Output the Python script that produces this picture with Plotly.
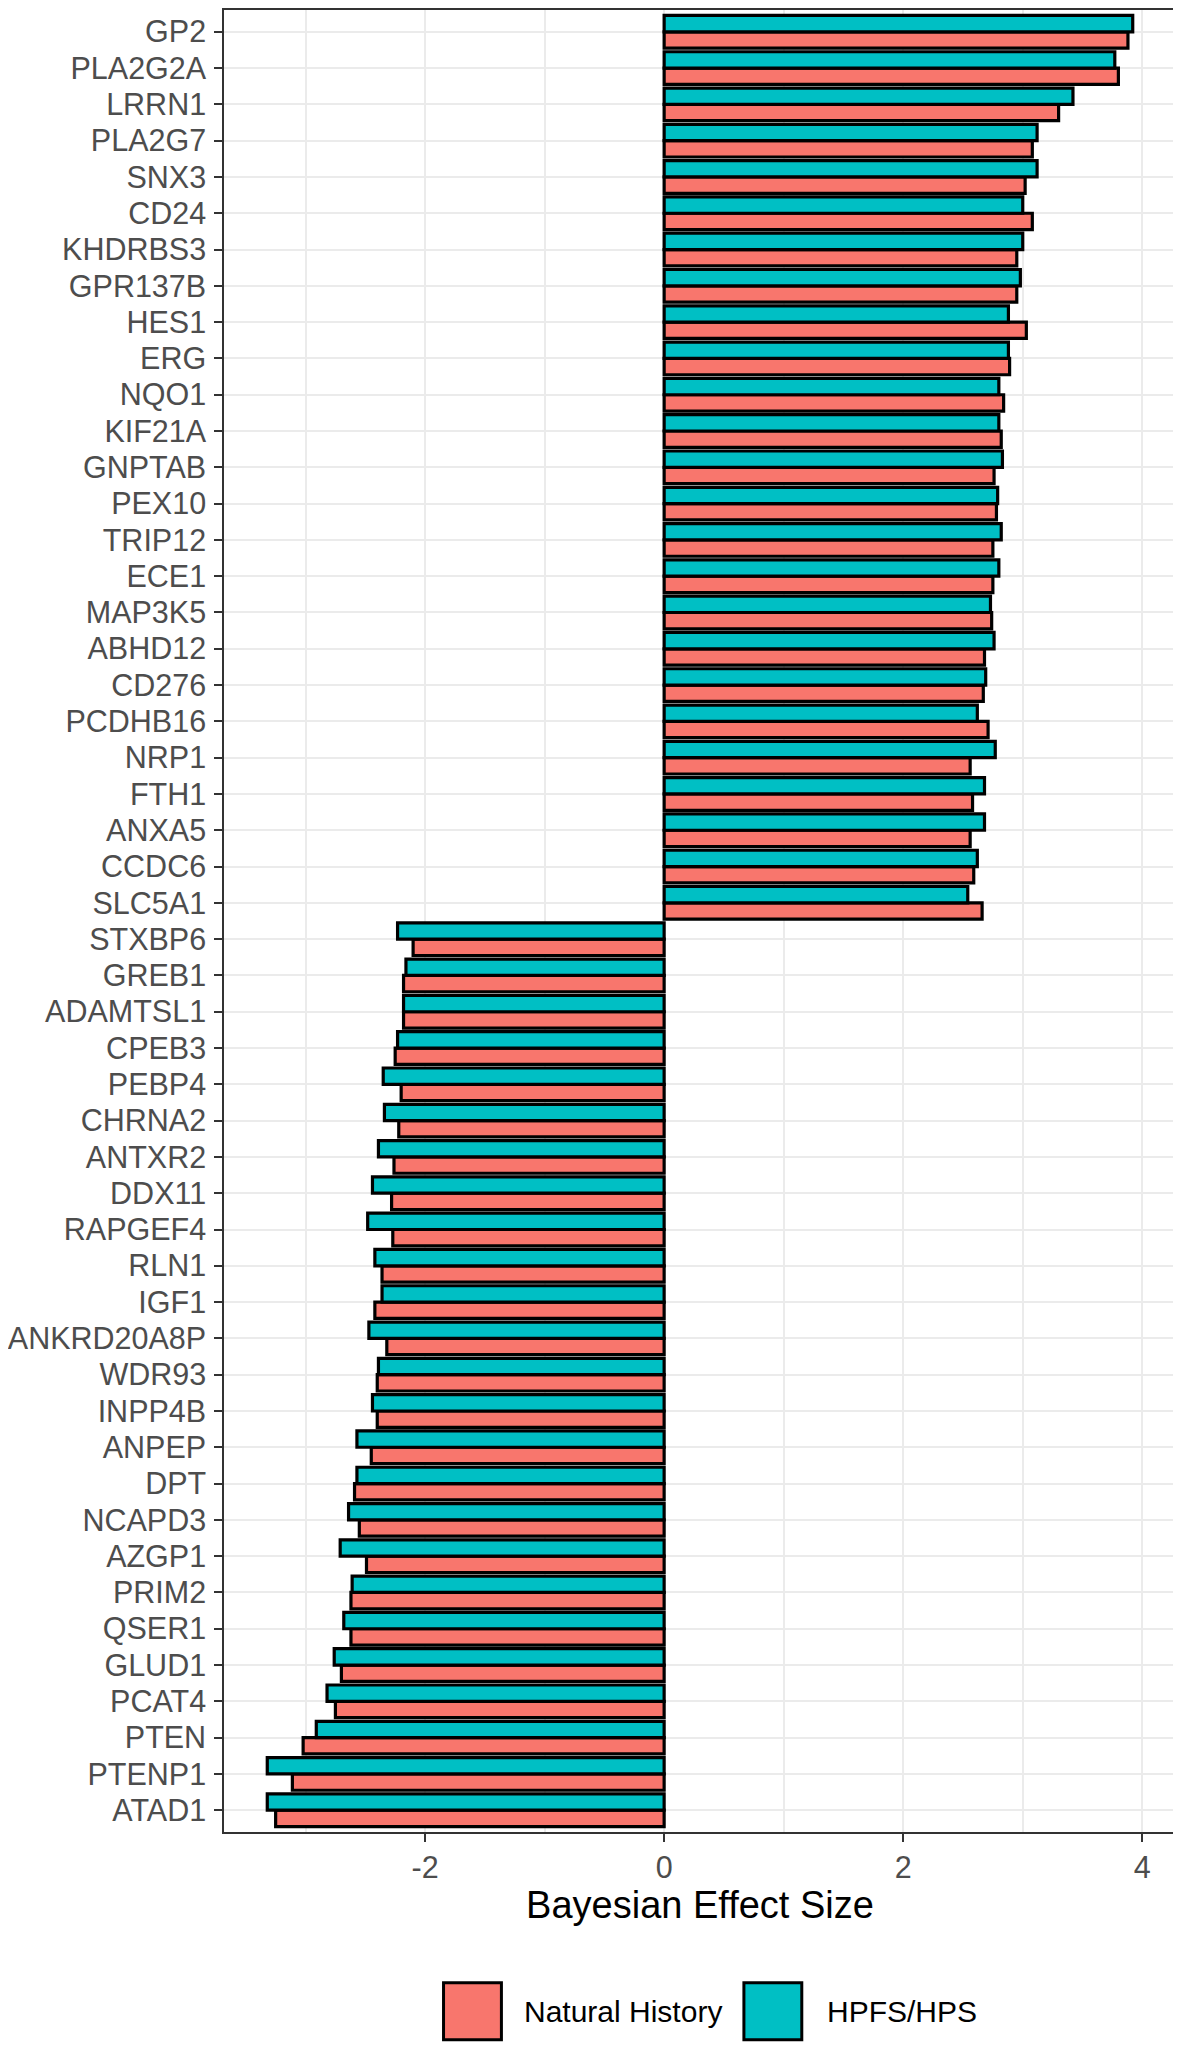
import plotly.graph_objects as go

genes = ["GP2", "PLA2G2A", "LRRN1", "PLA2G7", "SNX3", "CD24", "KHDRBS3", "GPR137B",
         "HES1", "ERG", "NQO1", "KIF21A", "GNPTAB", "PEX10", "TRIP12", "ECE1",
         "MAP3K5", "ABHD12", "CD276", "PCDHB16", "NRP1", "FTH1", "ANXA5", "CCDC6",
         "SLC5A1", "STXBP6", "GREB1", "ADAMTSL1", "CPEB3", "PEBP4", "CHRNA2",
         "ANTXR2", "DDX11", "RAPGEF4", "RLN1", "IGF1", "ANKRD20A8P", "WDR93",
         "INPP4B", "ANPEP", "DPT", "NCAPD3", "AZGP1", "PRIM2", "QSER1", "GLUD1",
         "PCAT4", "PTEN", "PTENP1", "ATAD1"]

natural_history = [3.88, 3.80, 3.30, 3.08, 3.02, 3.08, 2.95, 2.95, 3.03, 2.89,
                   2.84, 2.82, 2.76, 2.78, 2.75, 2.75, 2.74, 2.68, 2.67, 2.71,
                   2.56, 2.58, 2.56, 2.59, 2.66,
                   -2.10, -2.18, -2.18, -2.25, -2.20, -2.22, -2.26, -2.28, -2.27,
                   -2.36, -2.42, -2.32, -2.40, -2.40, -2.45, -2.59, -2.55, -2.49,
                   -2.62, -2.62, -2.70, -2.75, -3.02, -3.11, -3.25]

hpfs_hps = [3.92, 3.77, 3.42, 3.12, 3.12, 3.00, 3.00, 2.98, 2.88, 2.88,
            2.80, 2.80, 2.83, 2.79, 2.82, 2.80, 2.73, 2.76, 2.69, 2.62,
            2.77, 2.68, 2.68, 2.62, 2.54,
            -2.23, -2.16, -2.18, -2.23, -2.35, -2.34, -2.39, -2.44, -2.48,
            -2.42, -2.36, -2.47, -2.39, -2.44, -2.57, -2.57, -2.64, -2.71,
            -2.61, -2.68, -2.76, -2.82, -2.91, -3.32, -3.32]

series_names = ["Natural History", "HPFS/HPS"]
series_colors = ["#F8766D", "#00BFC4"]
x_ticks = [-2, 0, 2, 4]
x_title = "Bayesian Effect Size"

FONT = "Liberation Sans, Arial, sans-serif"
OFF = 8  # default page body margin
W, H = 1181 - OFF, 2045 - OFF
ML, MR, MT, MB = 222 - OFF, 5, 0, 213

fig = go.Figure()
for name, vals, col in zip(series_names, [natural_history, hpfs_hps], series_colors):
    fig.add_trace(go.Bar(
        y=genes, x=vals, name=name, orientation="h",
        marker=dict(color=col, line=dict(color="black", width=3.2)),
        showlegend=False,
    ))

all_vals = natural_history + hpfs_hps + [0]
lo, hi = min(all_vals), max(all_vals)
span = hi - lo
xrange = [lo - 0.05 * span, hi + 0.05 * span]

# page pixel -> paper helpers for legend decoration
pw, ph = W - ML - MR, H - MT - MB
def px(x):
    return (x - OFF - ML) / pw
def py(y):
    return (H - MB - (y - OFF)) / ph

shapes = []
annotations = []
legend_items = [(442, 521), (743, 824)]
for (kx, tx), name, col in zip(legend_items, series_names, series_colors):
    shapes.append(dict(type="rect", xref="paper", yref="paper",
                       x0=px(kx), x1=px(kx + 58), y0=py(1983), y1=py(2040),
                       fillcolor=col, line=dict(color="black", width=3)))
    annotations.append(dict(xref="paper", yref="paper", x=px(tx), y=py(2012),
                            xanchor="left", yanchor="middle", text=name,
                            showarrow=False, font=dict(family=FONT, size=30, color="black")))

fig.update_layout(
    width=W, height=H,
    margin=dict(l=ML, r=MR, t=MT, b=MB),
    paper_bgcolor="white", plot_bgcolor="white",
    barmode="group", bargap=0.1, bargroupgap=0,
    font=dict(family=FONT),
    shapes=shapes, annotations=annotations,
    xaxis=dict(
        range=xrange, tickvals=x_ticks, ticktext=[str(t) for t in x_ticks],
        showgrid=True, gridcolor="#EBEBEB", gridwidth=2,
        minor=dict(dtick=1, tick0=0, showgrid=True, gridcolor="#EBEBEB", gridwidth=1.5),
        zeroline=False,
        showline=True, linecolor="#333333", linewidth=1.5, mirror=True,
        ticks="outside", ticklen=8, tickwidth=2, tickcolor="#333333",
        tickfont=dict(family=FONT, size=30.5, color="#4D4D4D"),
        title=dict(text=x_title, font=dict(family=FONT, size=38, color="black"), standoff=6),
    ),
    yaxis=dict(
        categoryorder="array", categoryarray=genes[::-1],
        tickmode="array", tickvals=genes, ticktext=genes,
        range=[-0.6, len(genes) - 0.4],
        showgrid=True, gridcolor="#EBEBEB", gridwidth=2,
        zeroline=False,
        showline=True, linecolor="#333333", linewidth=1.5, mirror=True,
        ticks="outside", ticklen=8, tickwidth=2, tickcolor="#333333",
        tickfont=dict(family=FONT, size=30.5, color="#4D4D4D"),
        ticklabelstandoff=2,
    ),
)

fig.write_html("out.html")
